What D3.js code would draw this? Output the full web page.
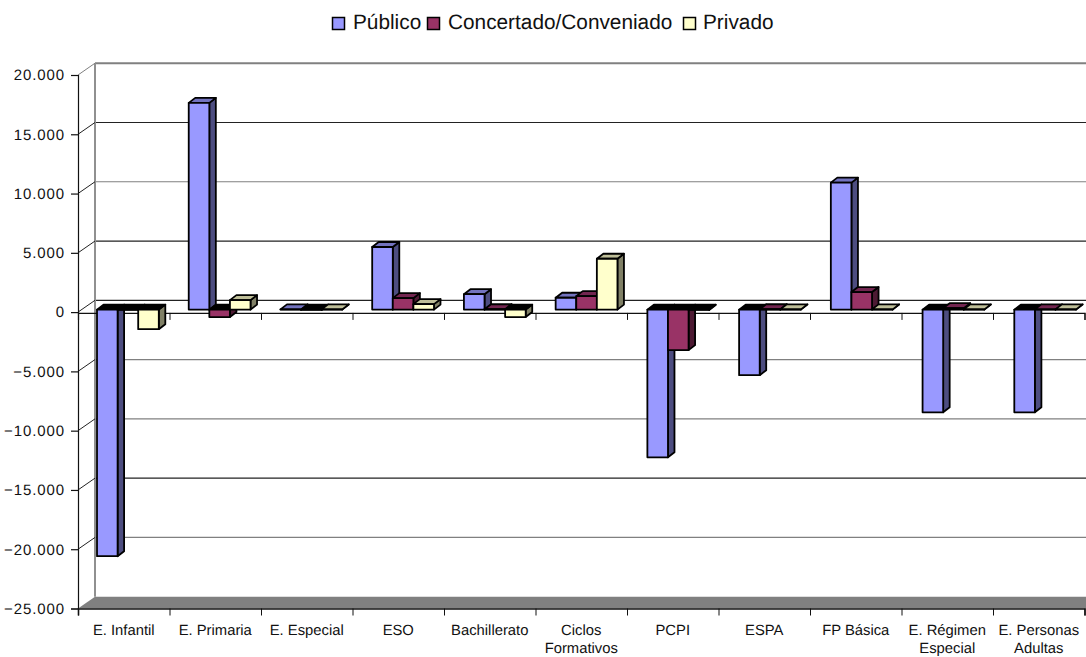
<!DOCTYPE html>
<html><head><meta charset="utf-8">
<script src="https://cdn.jsdelivr.net/npm/d3@7"></script>
<style>html,body{margin:0;background:#fff}svg{display:block}text{font-family:"Liberation Sans",Arial,sans-serif;fill:#111;text-rendering:geometricPrecision}</style>
</head><body><svg id="c" width="1086" height="657"></svg>
<script>
const categories=["E. Infantil","E. Primaria","E. Especial","ESO","Bachillerato","Ciclos Formativos","PCPI","ESPA","FP Básica","E. Régimen Especial","E. Personas Adultas"];
const labelLines=[["E. Infantil"],["E. Primaria"],["E. Especial"],["ESO"],["Bachillerato"],["Ciclos","Formativos"],["PCPI"],["ESPA"],["FP Básica"],["E. Régimen","Especial"],["E. Personas","Adultas"]];
const seriesNames=["Público","Concertado/Conveniado","Privado"];
const publico=[-20800,17440,20,5280,1300,1000,-12460,-5530,10710,-8660,-8660];
const concertado=[-30,-630,-30,970,30,1140,-3420,30,1480,120,20];
const privado=[-1650,800,20,460,-630,4290,-30,20,20,20,20];
const yTicks=[-25000,-20000,-15000,-10000,-5000,0,5000,10000,15000,20000];
const front=["#9999FF","#993366","#FFFFCC"], side=["#4d4d80","#4d1a33","#808066"], top_=["#7373bf","#732650","#bfbf99"];
const values=[publico,concertado,privado];

const svg=d3.select("#c");
const L=78,R=1084.5,T=75,B=608.5;
const D=[17,-11.8];
const x=d3.scaleBand().domain(categories).range([L,R]);
const y=d3.scaleLinear().domain([-25000,20000]).range([B,T]);
const xBars=d3.scaleBand().domain(categories).range([97,97+91.73*11]);
const s=d3.scaleBand().domain([0,1,2]).range([0,61.8]);
const BAR=-2.5, d=[6.5,-5];

svg.append("path").attr("d",`M${L},${B}L${L+D[0]},${B+D[1]}L1086,${B+D[1]}L1086,${B}Z`).attr("fill","#808080");
svg.append("g").selectAll("line").data(yTicks.filter(v=>v>-25000)).join("line")
  .attr("x1",L+D[0]).attr("x2",1086).attr("y1",v=>y(v)+D[1]).attr("y2",v=>y(v)+D[1])
  .attr("stroke",v=>(v==20000||v==10000||v==-5000||v==-10000||v==-20000)?"#808080":"#222")
  .attr("stroke-width",v=>v==20000?2:1.2);
svg.append("line").attr("x1",L+D[0]).attr("x2",L+D[0]).attr("y1",T+D[1]).attr("y2",B+D[1]).attr("stroke","#909090").attr("stroke-width",2);
svg.append("g").selectAll("line").data(yTicks.filter(v=>v>-25000)).join("line")
  .attr("x1",L).attr("x2",L+D[0]).attr("y1",v=>y(v)).attr("y2",v=>y(v)+D[1])
  .attr("stroke",v=>v==20000?"#808080":"#222").attr("stroke-width",1);

const ya=svg.append("g").attr("transform",`translate(${L},0)`)
  .call(d3.axisLeft(y).tickValues(yTicks).tickSize(7).tickPadding(6).tickFormat(v=>d3.format(",")(v).replace(/,/g,".")));
ya.selectAll("text").attr("font-size",15).attr("letter-spacing",0.9);
ya.selectAll("line,path").attr("stroke","#111").attr("stroke-width",1.2);

const edges=d3.scaleLinear().domain([0,categories.length]).range([L,R]);
const edgeVals=d3.range(categories.length+1);
[0,-25000].forEach(v=>{
  const g=svg.append("g").attr("transform",`translate(0,${y(v)+(v==0?0.8:0)})`)
    .call(d3.axisBottom(edges).tickValues(edgeVals).tickSize(7).tickFormat(""));
  g.selectAll("line").attr("stroke","#111").attr("stroke-width",1);
  g.select("path").attr("stroke","#111").attr("stroke-width",v==0?1.2:1.6);
});

const zeroY=y(0)+BAR;
const k=y(0)-y(1);
categories.forEach((c,i)=>{
  values.forEach((arr,j)=>{
    const v=arr[i], x0=xBars(c)+s(j), w=s.bandwidth(), x1=x0+w;
    const yv=zeroY-v*k, yt=Math.min(yv,zeroY), yb=Math.max(yv,zeroY);
    const g=svg.append("g").attr("stroke","#000").attr("stroke-width",1.8).attr("stroke-linejoin","round");
    g.append("path").attr("d",`M${x1},${yt}L${x1+d[0]},${yt+d[1]}L${x1+d[0]},${yb+d[1]}L${x1},${yb}Z`).attr("fill",side[j]);
    g.append("path").attr("d",`M${x0},${yt}L${x0+d[0]},${yt+d[1]}L${x1+d[0]},${yt+d[1]}L${x1},${yt}Z`).attr("fill",v<0?"#000":top_[j]);
    g.append("path").attr("d",`M${x0},${yt}H${x1}V${yb}H${x0}Z`).attr("fill",front[j]);
  });
});

const lab=svg.append("g").attr("font-size",14.8).attr("text-anchor","middle");
categories.forEach((c,i)=>{
  labelLines[i].forEach((t,n)=>{
    lab.append("text").attr("x",x(c)+x.bandwidth()/2).attr("y",635+n*18.3).text(t);
  });
});

const legendX=[332.5,427.5,683.5], textX=[353,448,703];
const lg=svg.append("g");
seriesNames.forEach((n,j)=>{
  lg.append("rect").attr("x",legendX[j]).attr("y",17.5).attr("width",12).attr("height",12).attr("fill",front[j]).attr("stroke","#000").attr("stroke-width",1.5);
  lg.append("text").attr("x",textX[j]).attr("y",29).attr("font-size",20.8).text(n);
});
</script></body></html>
